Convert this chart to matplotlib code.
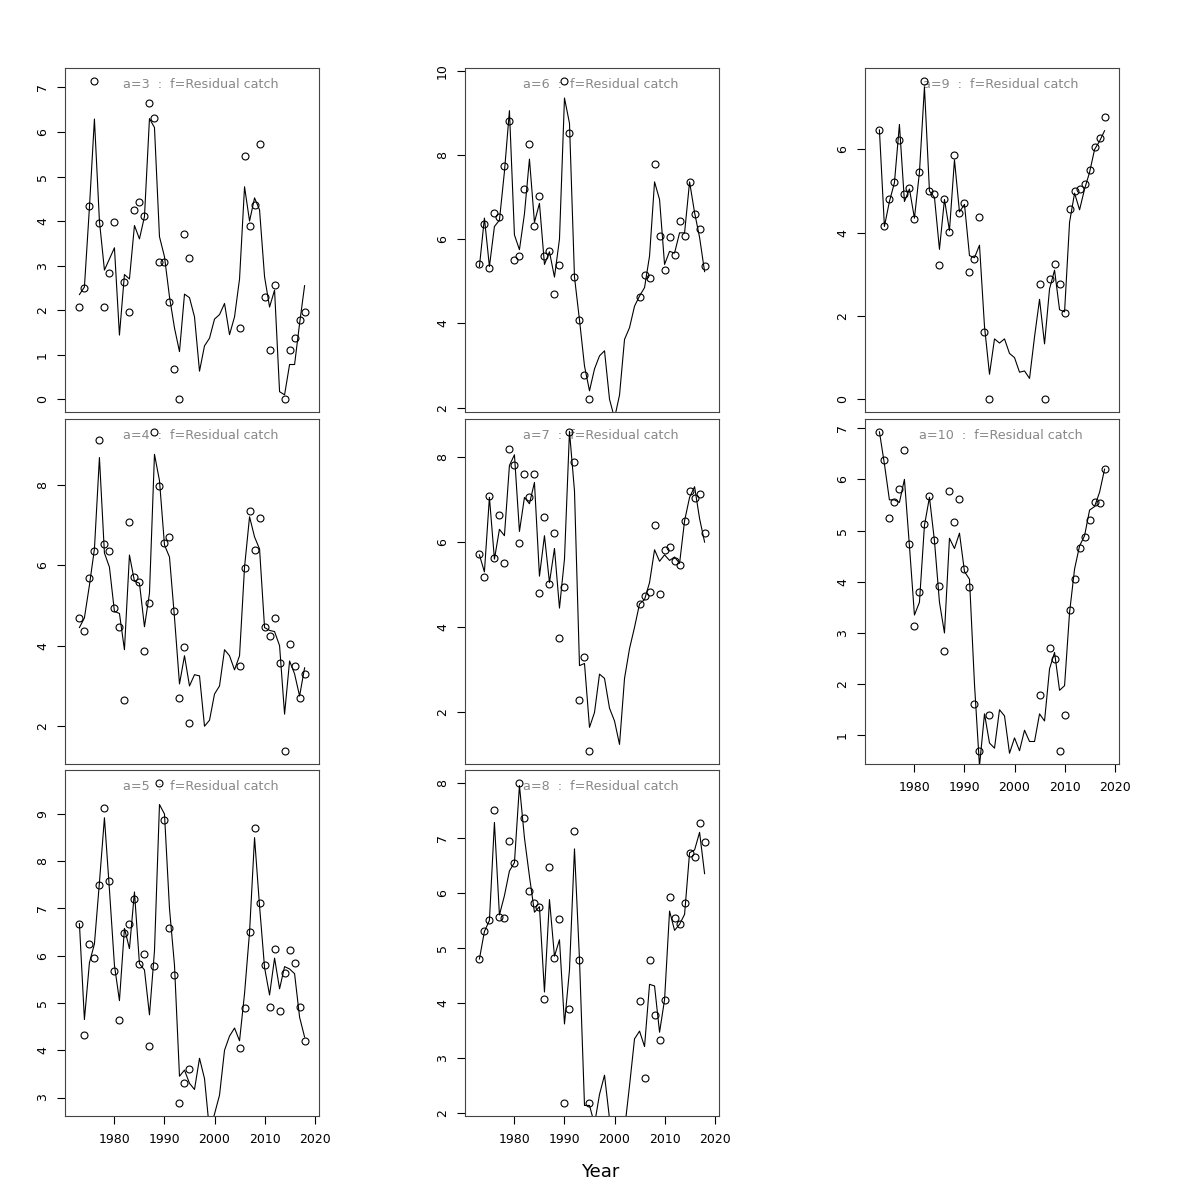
import numpy as np
import matplotlib
matplotlib.use("Agg")
import matplotlib.pyplot as plt

nan = np.nan
years = list(range(1973, 2019))
GAP = [nan] * 9  # 1996-2004 not observed

# ---- observed (points) and fitted (line) values, 1973..2018 ----
obs_a3 = [2.08, 2.49, 4.33, 7.15, 3.95, 2.08, 2.84, 3.99, nan, 2.63, 1.95, 4.25, 4.43, 4.12, 6.66, 6.32,
          3.09, 3.09, 2.19, 0.69, 0.0, 3.72, 3.18] + GAP + \
         [1.61, 5.46, 3.89, 4.36, 5.74, 2.30, 1.10, 2.56, nan, 0.0, 1.10, 1.38, 1.79, 1.95]
fit_a3 = [2.35, 2.52, 4.3, 6.29, 4.0, 2.9, 3.15, 3.4, 1.44, 2.8, 2.7, 3.9, 3.6, 4.1, 6.3, 6.1,
          3.65, 3.2, 2.3, 1.6, 1.07, 2.36, 2.28, 1.85, 0.63, 1.2, 1.37, 1.8, 1.9, 2.15, 1.45, 1.85,
          2.7, 4.77, 4.0, 4.52, 4.25, 2.75, 2.07, 2.45, 0.17, 0.1, 0.78, 0.78, 1.7, 2.55]

obs_a4 = [4.69, 4.37, 5.69, 6.34, 9.10, 6.52, 6.34, 4.93, 4.47, 2.64, 7.06, 5.70, 5.58, 3.88, 5.05, 9.31,
          7.97, 6.56, 6.71, 4.85, 2.71, 3.97, 2.07] + GAP + \
         [3.50, 5.93, 7.34, 6.38, 7.17, 4.47, 4.25, 4.69, 3.58, 1.38, 4.04, 3.50, 2.71, 3.29]
fit_a4 = [4.45, 4.69, 5.5, 6.4, 8.67, 6.3, 5.95, 4.85, 4.8, 3.9, 6.25, 5.6, 5.55, 4.47, 5.3, 8.75,
          8.1, 6.5, 6.2, 4.7, 3.05, 3.75, 3.0, 3.28, 3.25, 2.0, 2.15, 2.8, 3.0, 3.9, 3.75, 3.4,
          3.75, 5.95, 7.2, 6.7, 6.4, 4.45, 4.38, 4.35, 4.0, 2.3, 3.62, 3.3, 2.75, 3.45]

obs_a5 = [6.68, 4.33, 6.25, 5.95, 7.50, 9.12, 7.58, 5.68, 4.64, 6.48, 6.67, 7.20, 5.83, 6.03, 4.10, 5.79,
          9.66, 8.88, 6.59, 5.59, 2.89, 3.30, 3.61] + GAP + \
         [4.04, 4.90, 6.50, 8.70, 7.12, 5.81, 4.92, 6.15, 4.84, 5.63, 6.12, 5.84, 4.92, 4.20]
fit_a5 = [6.68, 4.65, 5.85, 6.25, 7.55, 8.92, 7.4, 5.8, 5.05, 6.58, 6.15, 7.35, 5.83, 5.7, 4.75, 6.1,
          9.2, 9.0, 7.0, 5.8, 3.45, 3.58, 3.3, 3.17, 3.83, 3.4, 2.3, 2.65, 3.05, 4.0, 4.3, 4.47,
          4.2, 5.2, 6.5, 8.5, 7.05, 5.75, 5.17, 5.95, 5.3, 5.77, 5.72, 5.62, 4.7, 4.28]

obs_a6 = [5.41, 6.35, 5.32, 6.62, 6.52, 7.73, 8.81, 5.51, 5.59, 7.19, 8.27, 6.31, 7.02, 5.60, 5.71, 4.70,
          5.39, 9.76, 8.52, 5.09, 4.08, 2.78, 2.20] + GAP + \
         [4.63, 5.16, 5.07, 7.79, 6.07, 5.26, 6.05, 5.63, 6.42, 6.07, 7.35, 6.60, 6.24, 5.37]
fit_a6 = [5.35, 6.5, 5.35, 6.3, 6.45, 7.6, 9.05, 6.1, 5.75, 6.6, 7.9, 6.4, 6.85, 5.4, 5.7, 5.1,
          6.0, 9.35, 8.75, 5.1, 4.08, 2.99, 2.4, 2.92, 3.23, 3.35, 2.2, 1.75, 2.3, 3.62, 3.9, 4.41,
          4.65, 4.85, 5.6, 7.36, 6.94, 5.4, 5.71, 5.67, 6.15, 6.15, 7.36, 6.63, 6.04, 5.23]

obs_a7 = [5.73, 5.17, 7.08, 5.62, 6.64, 5.51, 8.19, 7.80, 5.97, 7.59, 7.05, 7.61, 4.81, 6.58, 5.01, 6.21,
          3.76, 4.94, 8.59, 7.88, 2.30, 3.30, 1.09] + GAP + \
         [4.54, 4.74, 4.82, 6.39, 4.77, 5.81, 5.88, 5.56, 5.46, 6.49, 7.20, 7.04, 7.12, 6.22]
fit_a7 = [5.7, 5.3, 7.05, 5.6, 6.3, 6.15, 7.8, 8.05, 6.25, 7.05, 6.9, 7.4, 5.2, 6.15, 5.05, 5.85,
          4.45, 5.6, 8.6, 7.2, 3.1, 3.15, 1.65, 2.0, 2.9, 2.8, 2.1, 1.8, 1.25, 2.8, 3.5, 4.0,
          4.55, 4.65, 5.05, 5.82, 5.55, 5.7, 5.57, 5.65, 5.5, 6.5, 7.05, 7.3, 6.55, 6.0]

obs_a8 = [4.80, 5.30, 5.51, 7.51, 5.57, 5.54, 6.95, 6.54, 8.00, 7.36, 6.04, 5.82, 5.75, 4.08, 6.47, 4.82,
          5.53, 2.19, 3.90, 7.12, 4.79, nan, 2.19] + GAP + \
         [4.04, 2.64, 4.79, 3.79, 3.33, 4.06, 5.92, 5.54, 5.43, 5.82, 6.72, 6.66, 7.27, 6.93]
fit_a8 = [4.8, 5.3, 5.5, 7.28, 5.6, 5.95, 6.4, 6.55, 7.95, 7.0, 6.3, 5.65, 5.75, 4.2, 5.88, 4.85,
          5.15, 3.62, 4.6, 6.8, 4.79, 2.14, 2.14, 1.8, 2.34, 2.69, 1.9, 1.5, 1.5, 1.7, 2.5, 3.35,
          3.49, 3.21, 4.34, 4.31, 3.47, 4.06, 5.67, 5.32, 5.43, 5.61, 6.73, 6.78, 7.1, 6.35]

obs_a9 = [6.47, 4.15, 4.82, 5.21, 6.22, 4.93, 5.07, 4.34, 5.47, 7.65, 5.01, 4.93, 3.22, 4.82, 4.01, 5.86,
          4.47, 4.72, 3.05, 3.37, 4.37, 1.61, 0.0] + GAP + \
         [2.77, 0.0, 2.89, 3.26, 2.77, 2.08, 4.57, 5.01, 5.04, 5.16, 5.50, 6.07, 6.28, 6.77]
fit_a9 = [6.47, 4.15, 4.75, 5.2, 6.6, 4.75, 5.05, 4.35, 5.45, 7.5, 5.0, 4.85, 3.6, 4.8, 4.05, 5.75,
          4.5, 4.68, 3.45, 3.4, 3.7, 1.75, 0.6, 1.45, 1.35, 1.45, 1.1, 1.0, 0.65, 0.68, 0.5, 1.5,
          2.4, 1.33, 2.65, 3.1, 2.15, 2.1, 4.25, 4.95, 4.55, 5.05, 5.45, 6.0, 6.2, 6.45]

obs_a10 = [6.93, 6.37, 5.25, 5.56, 5.82, 6.57, 4.73, 3.14, 3.81, 5.13, 5.67, 4.82, 3.91, 2.64, 5.78, 5.16,
           5.62, 4.25, 3.90, 1.61, 0.69, nan, 1.39] + GAP + \
          [1.79, nan, 2.71, 2.49, 0.69, 1.39, 3.44, 4.06, 4.65, 4.88, 5.21, 5.55, 5.53, 6.21]
fit_a10 = [6.93, 6.3, 5.6, 5.6, 5.55, 6.0, 4.7, 3.35, 3.6, 5.1, 5.65, 4.8, 3.6, 3.0, 4.85, 4.65,
           4.95, 4.2, 4.05, 2.0, 0.4, 1.42, 0.85, 0.75, 1.5, 1.38, 0.65, 0.95, 0.7, 1.1, 0.88, 0.88,
           1.42, 1.28, 2.3, 2.62, 1.88, 1.97, 3.4, 4.25, 4.7, 4.9, 5.4, 5.47, 5.75, 6.2]

ages = [3, 4, 5, 6, 7, 8, 9, 10]
obs = [obs_a3, obs_a4, obs_a5, obs_a6, obs_a7, obs_a8, obs_a9, obs_a10]
fit = [fit_a3, fit_a4, fit_a5, fit_a6, fit_a7, fit_a8, fit_a9, fit_a10]
yticks = [[0, 1, 2, 3, 4, 5, 6, 7], [2, 4, 6, 8], [3, 4, 5, 6, 7, 8, 9],
          [2, 4, 6, 8, 10], [2, 4, 6, 8], [2, 3, 4, 5, 6, 7, 8],
          [0, 2, 4, 6], [1, 2, 3, 4, 5, 6, 7]]
xticks = [1980, 1990, 2000, 2010, 2020]
fleet = "Residual catch"

# ---- layout (pixel boxes in a 1200x1200 figure) ----
W = H = 1200.0
col_left = [65, 465, 865]
col_w = 254
row_top = [68, 419, 770]
row_bot = [412, 764, 1115.5]
# panel index -> (col, row)
pos = [(0, 0), (0, 1), (0, 2), (1, 0), (1, 1), (1, 2), (2, 0), (2, 1)]
bottom_panels = {2, 5, 7}

fig = plt.figure(figsize=(12, 12), dpi=100)
fig.patch.set_facecolor("white")

for i, a in enumerate(ages):
    c, r = pos[i]
    left = col_left[c] / W
    bottom = 1 - row_bot[r] / H
    height = (row_bot[r] - row_top[r]) / H
    ax = fig.add_axes([left, bottom, col_w / W, height])

    o = np.array(obs[i], dtype=float)
    f = np.array(fit[i], dtype=float)
    ax.plot(years, f, color="black", lw=0.8, zorder=2)
    ax.plot(years, o, linestyle="none", marker="o", markersize=5.0,
            markerfacecolor="none", markeredgecolor="black", markeredgewidth=0.8, zorder=3)

    lo, hi = np.nanmin(o), np.nanmax(o)
    pad = 0.04 * (hi - lo)
    ax.set_ylim(lo - pad, hi + pad)
    ax.set_xlim(1972 - 0.04 * 47, 2019 + 0.04 * 47)

    ax.set_yticks(yticks[i])
    ax.set_yticklabels([str(t) for t in yticks[i]])
    ax.tick_params(axis="y", direction="out", length=5.5, width=0.8, pad=6,
                   labelsize=9, labelrotation=90, color="black")
    for lab in ax.get_yticklabels():
        lab.set_va("center")

    if i in bottom_panels:
        ax.set_xticks(xticks)
        ax.set_xticklabels([str(t) for t in xticks])
        ax.tick_params(axis="x", direction="out", length=5.5, width=0.8, pad=7,
                       labelsize=9, color="black")
    else:
        ax.set_xticks([])

    for s in ax.spines.values():
        s.set_color("#444444")
        s.set_linewidth(0.8)

    ax.text(0.533, 0.953, f"a={a}  :  f={fleet}", transform=ax.transAxes,
            ha="center", va="center", fontsize=9.2, color="#888888", zorder=1)

fig.text(0.5, 1 - 1172 / H, "Year", ha="center", va="center", fontsize=13)

fig.savefig("out.png", dpi=100, facecolor="white")
